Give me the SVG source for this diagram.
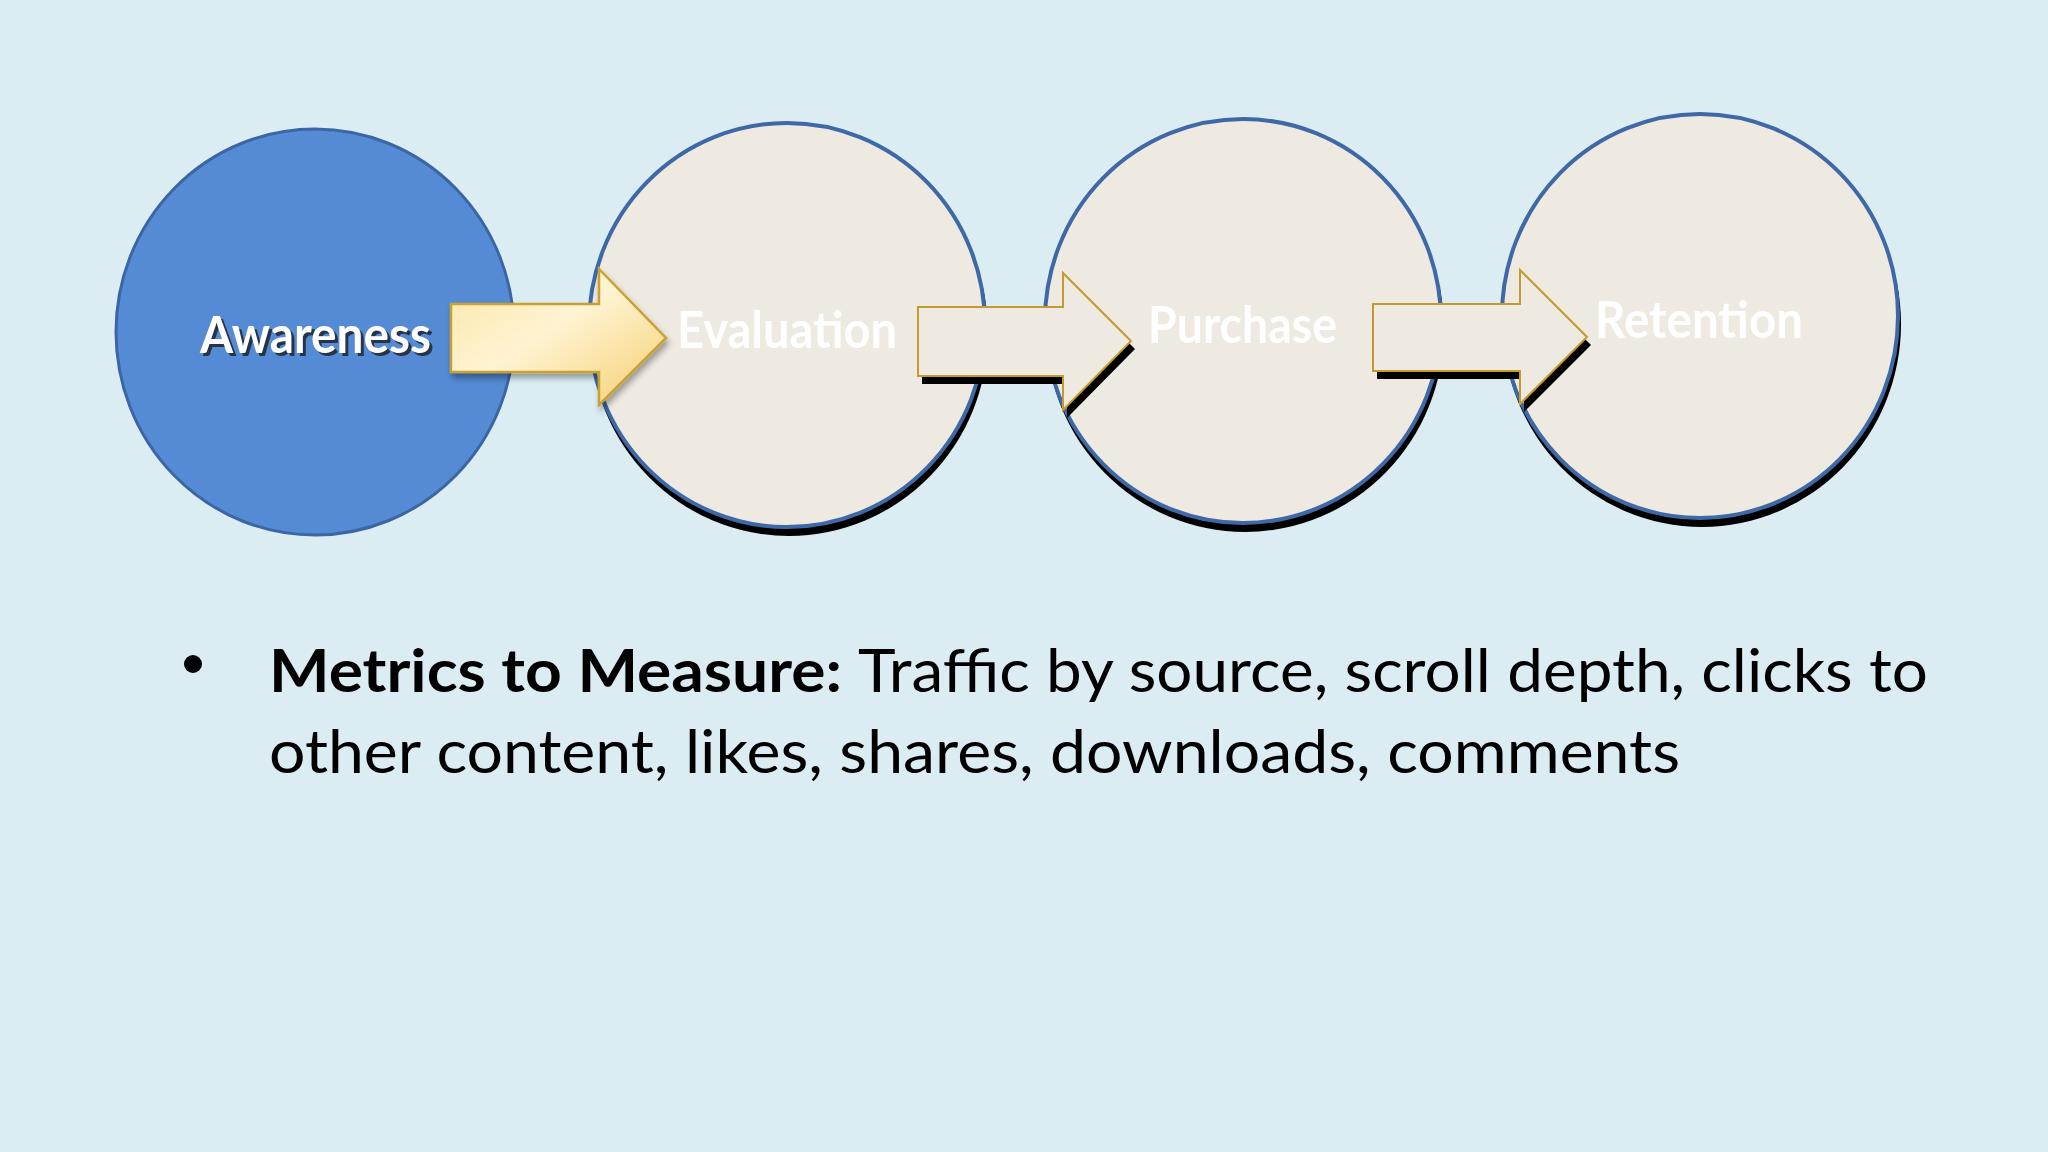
<svg xmlns="http://www.w3.org/2000/svg" width="2048" height="1152" viewBox="0 0 2048 1152">
  <defs>
    <linearGradient id="goldGrad" x1="0" y1="0" x2="1" y2="1">
      <stop offset="0" stop-color="#fbe6a6"/>
      <stop offset="0.45" stop-color="#fff3d2"/>
      <stop offset="1" stop-color="#f5cf6e"/>
    </linearGradient>
    <filter id="softShadow" x="-10%" y="-10%" width="130%" height="140%">
      <feGaussianBlur in="SourceAlpha" stdDeviation="3"/>
      <feOffset dx="2" dy="5" result="b"/>
      <feComponentTransfer><feFuncA type="linear" slope="0.35"/></feComponentTransfer>
      <feMerge><feMergeNode/><feMergeNode in="SourceGraphic"/></feMerge>
    </filter>
  </defs>
  <style>
    .bg { fill: #dbedf3; }
    .blue { fill: #558bd5; stroke: #3b66a3; stroke-width: 3; }
    .beige { fill: #eeeae2; stroke: #3e68a6; stroke-width: 4; }
    .shadow { fill: #000000; }
    .arrowBeige { fill: #eeeae2; stroke: #c49a2c; stroke-width: 2; stroke-linejoin: miter; }
    .arrowGold { fill: url(#goldGrad); stroke: #c9a131; stroke-width: 2.5; }
    .label { font-family: Lato, "Liberation Sans", sans-serif; font-weight: bold; font-size: 51px; fill: #ffffff; }
    .labelShadow { font-family: Lato, "Liberation Sans", sans-serif; font-weight: bold; font-size: 51px; fill: #1e2430; opacity: 0.85; }
    .body { font-family: Lato, "Liberation Sans", sans-serif; font-size: 60px; fill: #000000; }
    .bold { font-weight: bold; }
  </style>

  <rect class="bg" x="0" y="0" width="2048" height="1152"/>

  <g id="node-awareness">
    <ellipse class="blue" cx="315" cy="332" rx="199" ry="203"/>
    <text class="labelShadow" x="203" y="356" textLength="231" lengthAdjust="spacingAndGlyphs">Awareness</text>
    <text class="label" x="200" y="353" textLength="231" lengthAdjust="spacingAndGlyphs">Awareness</text>
  </g>

  <g id="node-evaluation">
    <ellipse class="shadow" cx="789" cy="333" rx="199" ry="203"/>
    <ellipse class="beige" cx="787" cy="325" rx="198" ry="202"/>
    <text class="label" x="677" y="348" textLength="220" lengthAdjust="spacingAndGlyphs">Evaluation</text>
  </g>

  <g id="node-purchase">
    <ellipse class="shadow" cx="1245" cy="329" rx="199" ry="203"/>
    <ellipse class="beige" cx="1243" cy="321" rx="198" ry="202"/>
    <text class="label" x="1148" y="343" textLength="189" lengthAdjust="spacingAndGlyphs">Purchase</text>
  </g>

  <g id="node-retention">
    <ellipse class="shadow" cx="1702" cy="324" rx="199" ry="203"/>
    <ellipse class="beige" cx="1700" cy="316" rx="198" ry="202"/>
    <text class="label" x="1595" y="338" textLength="208" lengthAdjust="spacingAndGlyphs">Retention</text>
  </g>

  <g id="connectors">
    <polygon class="arrowGold" filter="url(#softShadow)" points="451,304 599,304 599,269 666,338 599,405 599,372 451,372"/>
    <polygon class="shadow" points="922,315 1067,315 1067,281 1135,349 1067,418 1067,384 922,384"/>
    <polygon class="arrowBeige" points="918,307 1063,307 1063,273 1131,341 1063,410 1063,376 918,376"/>
    <polygon class="shadow" points="1377,312 1524,312 1524,278 1591,345 1524,412 1524,379 1377,379"/>
    <polygon class="arrowBeige" points="1373,304 1520,304 1520,270 1587,337 1520,404 1520,371 1373,371"/>
  </g>

  <g id="bullet-text">
    <circle cx="193" cy="664" r="9" fill="#000000"/>
    <text class="body bold" x="269" y="692" textLength="573" lengthAdjust="spacingAndGlyphs">Metrics to Measure:</text>
    <text class="body" x="858" y="692" textLength="1070" lengthAdjust="spacingAndGlyphs">Traffic by source, scroll depth, clicks to</text>
    <text class="body" x="269" y="773" textLength="1411" lengthAdjust="spacingAndGlyphs">other content, likes, shares, downloads, comments</text>
  </g>
</svg>
